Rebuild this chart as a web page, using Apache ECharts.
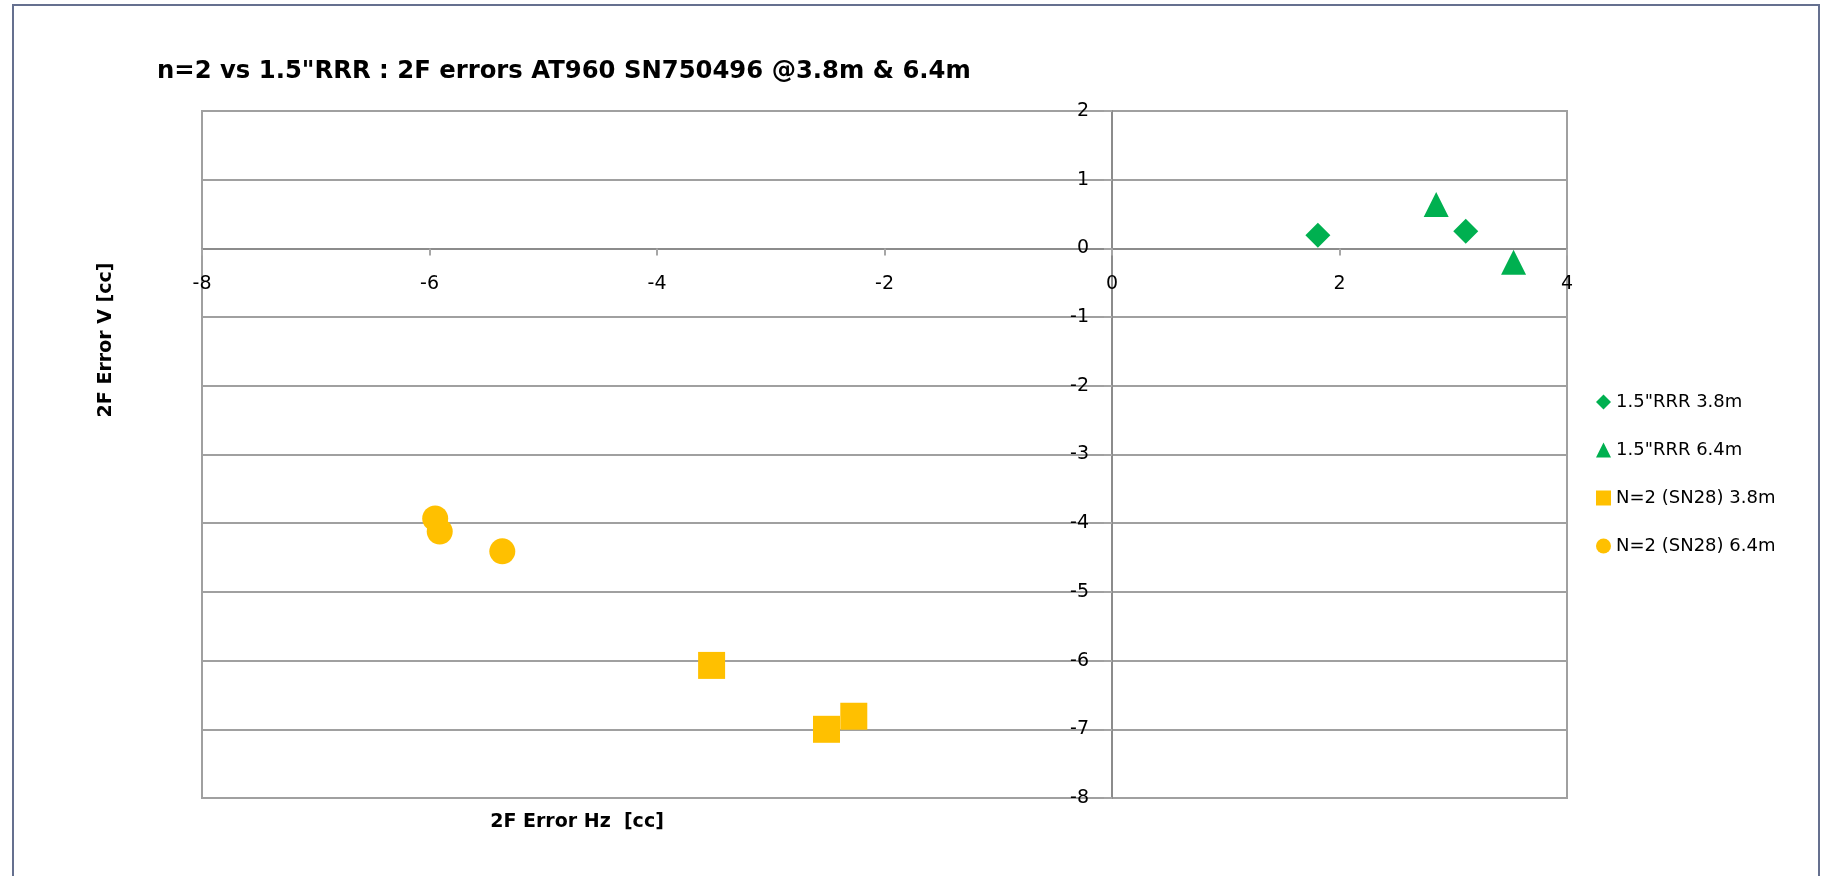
<!DOCTYPE html>
<html>
<head>
<meta charset="utf-8">
<script src="https://cdn.jsdelivr.net/npm/echarts@6/dist/echarts.min.js"></script>
<style>
  html, body { margin: 0; padding: 0; background: #ffffff; }
  #chart { width: 1825px; height: 876px; }
</style>
</head>
<body>
<div id="chart"></div>
<script>
// 2F errors (Hz, V) in cc for each prism / distance
const rrr38Hz = [1.81, 3.11];
const rrr38V = [0.19, 0.25];
const rrr64Hz = [2.85, 3.53];
const rrr64V = [0.64, -0.20];
const n2_38Hz = [-3.52, -2.51, -2.27];
const n2_38V = [-6.07, -7.00, -6.81];
const n2_64Hz = [-5.95, -5.91, -5.36];
const n2_64V = [-3.93, -4.12, -4.41];

const seriesNames = ['1.5"RRR 3.8m', '1.5"RRR 6.4m', 'N=2 (SN28) 3.8m', 'N=2 (SN28) 6.4m'];
const titleText = 'n=2 vs 1.5"RRR : 2F errors AT960 SN750496 @3.8m & 6.4m';
const xAxisTitle = '2F Error Hz  [cc]';
const yAxisTitle = '2F Error V [cc]';

// axis ranges
const xMin = -8, xMax = 4, xStep = 2;
const yMin = -8, yMax = 2, yStep = 1;

const FONT = '"DejaVu Sans", "Liberation Sans", sans-serif';
const GREEN = '#00b050';
const GOLD = '#ffc000';

// plot area box
const W = 1825, H = 876;
const G = { left: 202, right: 258, top: 111, bottom: 78 };
const gridW = W - G.left - G.right;
const gridH = H - G.top - G.bottom;
// axes cross at the origin: shift each axis from its grid edge to zero
const xAxisOffset = -gridH * (0 - yMin) / (yMax - yMin);
const yAxisOffset = -gridW * (0 - xMin) / (xMax - xMin);

function pairs(xs, ys) { return xs.map((x, i) => [x, ys[i]]); }

const chart = echarts.init(document.getElementById('chart'), null, { renderer: 'canvas' });

chart.setOption({
  backgroundColor: '#ffffff',
  animation: false,
  textStyle: { fontFamily: FONT },
  title: {
    text: titleText,
    left: 157,
    top: 60,
    padding: 0,
    textStyle: { fontFamily: FONT, fontSize: 24.3, fontWeight: 'bold', color: '#000000' }
  },
  grid: {
    left: G.left, right: G.right, top: G.top, bottom: G.bottom,
    show: true, borderColor: '#a0a0a0', borderWidth: 2, backgroundColor: 'transparent'
  },
  legend: {
    orient: 'vertical',
    left: 1591,
    top: 387,
    itemWidth: 15,
    itemHeight: 15,
    itemGap: 28,
    textStyle: { fontFamily: FONT, fontSize: 18, color: '#000000', lineHeight: 20 },
    data: seriesNames
  },
  xAxis: {
    type: 'value',
    position: 'bottom',
    offset: xAxisOffset,
    min: xMin, max: xMax, interval: xStep,
    axisLine: { onZero: false, lineStyle: { color: '#8c8c8c', width: 2 } },
    axisTick: { show: true, inside: false, length: 7, lineStyle: { color: '#a6a6a6', width: 2 } },
    axisLabel: { margin: 26, fontFamily: FONT, fontSize: 19, color: '#000000', showMinLabel: true, showMaxLabel: true },
    splitLine: { show: false }
  },
  yAxis: {
    type: 'value',
    position: 'left',
    offset: yAxisOffset,
    min: yMin, max: yMax, interval: yStep,
    axisLine: { onZero: false, lineStyle: { color: '#8c8c8c', width: 2 } },
    axisTick: { show: true, inside: false, length: 8, lineStyle: { color: '#a6a6a6', width: 2 } },
    axisLabel: { margin: 23, fontFamily: FONT, fontSize: 19, color: '#000000', showMinLabel: true, showMaxLabel: true },
    splitLine: { show: true, lineStyle: { color: '#a0a0a0', width: 2 } }
  },
  graphic: [
    {
      type: 'rect', silent: true, z: -1,
      shape: { x: 13, y: 5, width: 1806, height: 880 },
      style: { fill: 'none', stroke: '#65708f', lineWidth: 2 }
    },
    {
      type: 'text', x: 106, y: 340, rotation: Math.PI / 2,
      style: { text: yAxisTitle, fontFamily: FONT, fontSize: 19, fontWeight: 'bold', fill: '#000000', align: 'center', verticalAlign: 'middle' }
    },
    {
      type: 'text', x: 577, y: 822,
      style: { text: xAxisTitle, fontFamily: FONT, fontSize: 19, fontWeight: 'bold', fill: '#000000', align: 'center', verticalAlign: 'middle' }
    }
  ],
  series: [
    { name: seriesNames[0], type: 'scatter', symbol: 'diamond', symbolSize: 25, itemStyle: { color: GREEN, opacity: 1 }, data: pairs(rrr38Hz, rrr38V) },
    { name: seriesNames[1], type: 'scatter', symbol: 'triangle', symbolSize: 25, itemStyle: { color: GREEN, opacity: 1 }, data: pairs(rrr64Hz, rrr64V) },
    { name: seriesNames[2], type: 'scatter', symbol: 'rect', symbolSize: 27, itemStyle: { color: GOLD, opacity: 1 }, data: pairs(n2_38Hz, n2_38V) },
    { name: seriesNames[3], type: 'scatter', symbol: 'circle', symbolSize: 26, itemStyle: { color: GOLD, opacity: 1 }, data: pairs(n2_64Hz, n2_64V) }
  ]
});
</script>
</body>
</html>
